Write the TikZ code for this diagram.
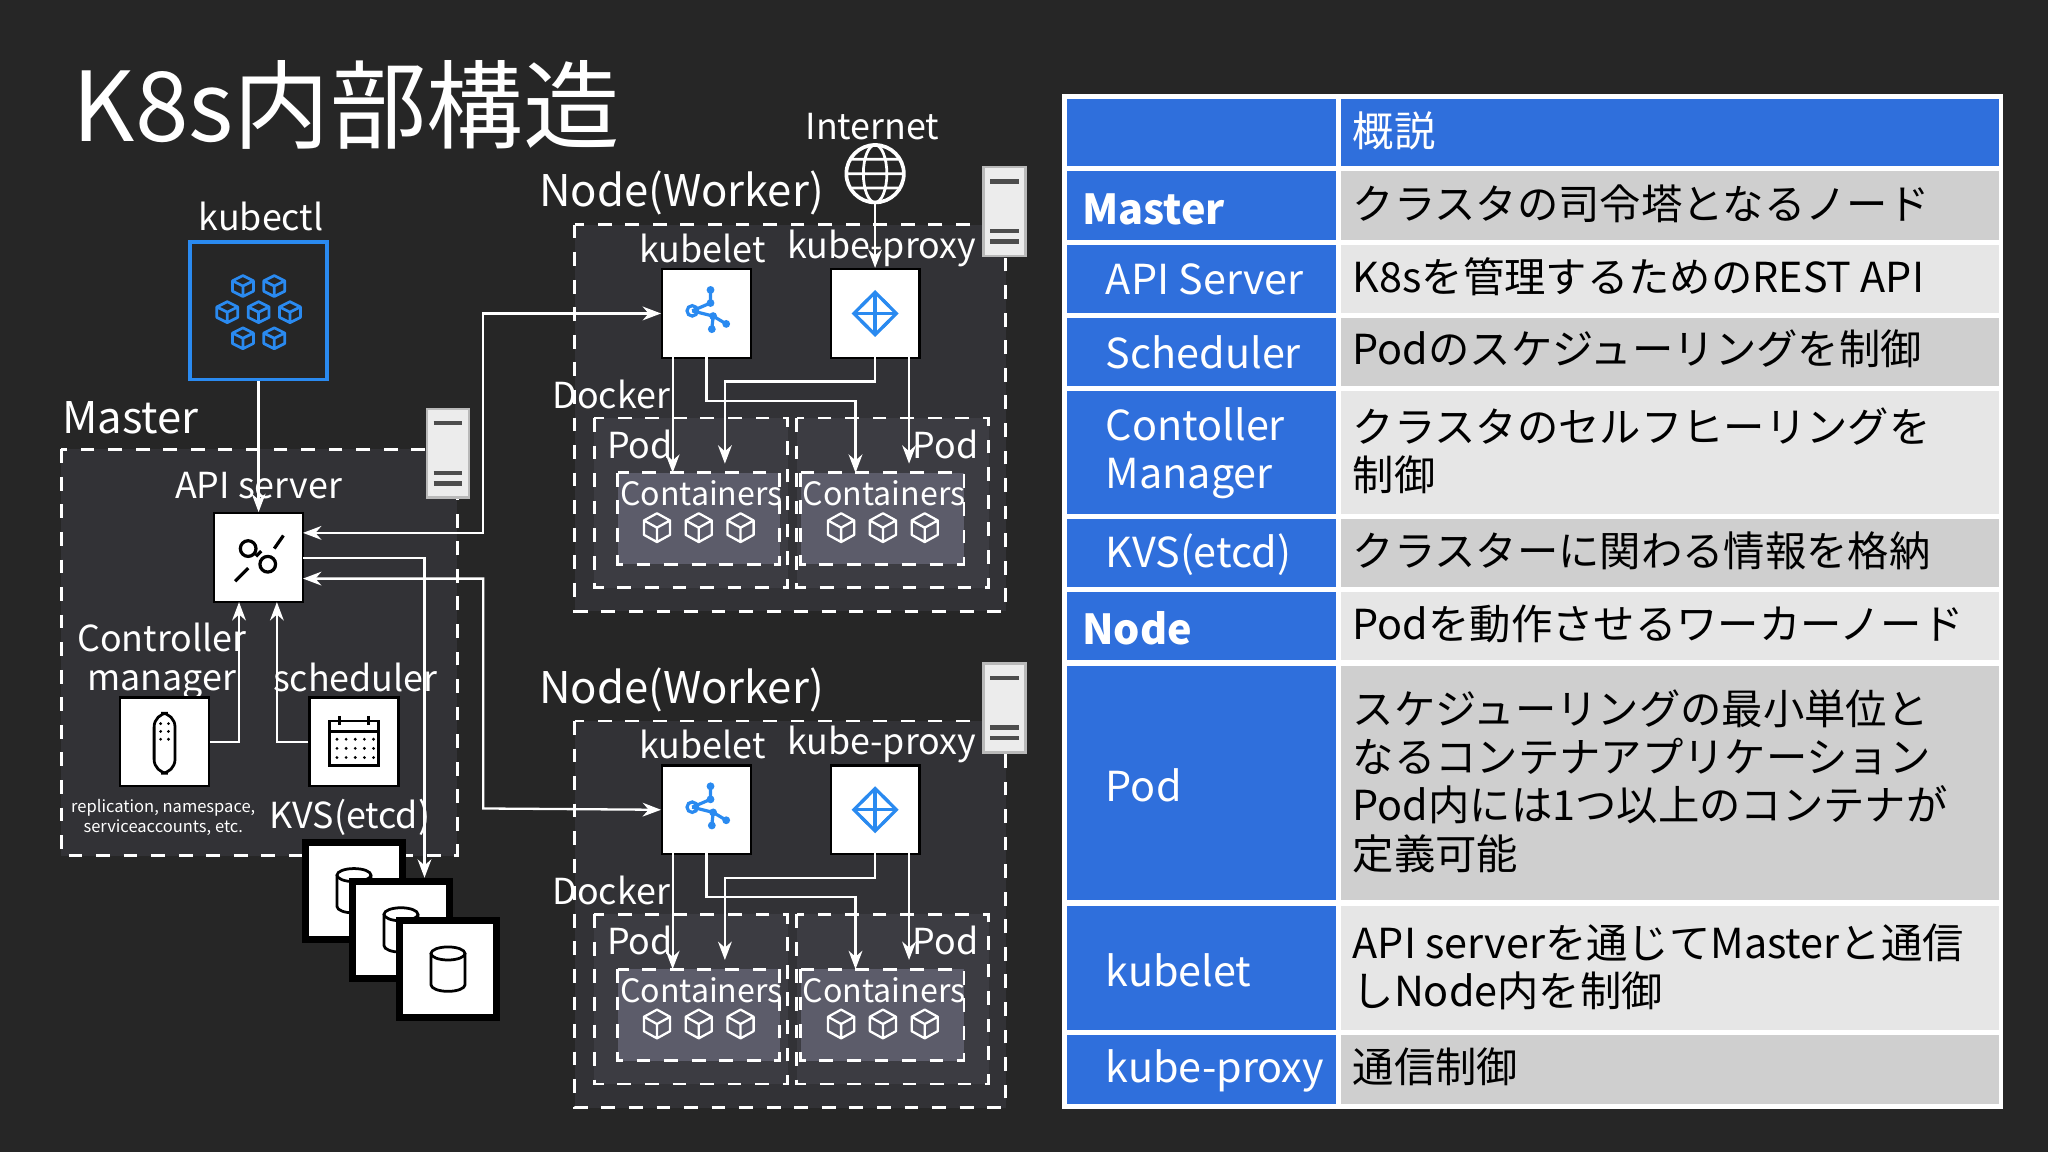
\documentclass[tikz,border=0pt]{standalone}
\usepackage{fontspec}
\setmainfont{Noto Sans CJK JP}
\usetikzlibrary{arrows.meta}
\definecolor{bg}{HTML}{262626}
\definecolor{panel}{HTML}{323236}
\definecolor{podfill}{HTML}{3C3C42}
\definecolor{cfill}{HTML}{5C5C6A}
\definecolor{tblue}{HTML}{2F6FDC}
\definecolor{gdark}{HTML}{CFCFCF}
\definecolor{glight}{HTML}{E6E6E6}
\definecolor{kblue}{HTML}{2A8AF0}
\tikzset{
  lbl/.style={text=white,font=\fontsize{7.8}{8.5}\selectfont,inner sep=0pt},
  box/.style={draw=white,dashed,line width=0.6pt},
  icon/.style={fill=white,draw=black,line width=0.5pt,minimum size=6.8mm,inner sep=0pt},
  link/.style={draw=white,line width=0.5pt,-{Stealth[length=4pt]}},
  both/.style={draw=white,line width=0.5pt,{Stealth[length=4pt]}-{Stealth[length=4pt]}},
  cell/.style={text=black,font=\fontsize{9}{10.5}\selectfont,anchor=west,align=left,inner sep=0pt},
  head/.style={text=white,font=\fontsize{9}{10.5}\selectfont,anchor=west,align=left,inner sep=0pt},
  cube/.pic={\draw[white,line width=0.5pt,line join=round]
      (0,-11)--(10,-5.5)--(10,5.5)--(0,11)--(-10,5.5)--(-10,-5.5)--cycle
      (-10,-5.5)--(0,0)--(10,-5.5) (0,0)--(0,11);},
  bcube/.pic={\draw[kblue,line width=0.6pt,line join=round]
      (0,-8)--(8,-4)--(8,4)--(0,8)--(-8,4)--(-8,-4)--cycle
      (-8,-4)--(0,0)--(8,-4) (0,0)--(0,8);},
  server/.pic={\fill[gray!55] (0,0) rectangle (34,70);
      \fill[white!85!gray] (2,2) rectangle (32,68);
      \draw[black!70,line width=1pt] (6,12)--(28,12) (6,50)--(28,50) (6,58)--(28,58);},
  db/.pic={\node[icon,minimum size=7.4mm,line width=1.5pt] at (0,0) {};
      \draw[black,line width=0.6pt] (-13,-12) -- (-13,12) arc[start angle=180,end angle=0,x radius=13,y radius=5] -- (13,-12);
      \draw[black,line width=0.6pt] (0,-12) ellipse[x radius=13,y radius=5];}
}
\begin{document}
\begin{tikzpicture}[x=0.01cm,y=-0.01cm]
\fill[bg] (0,0) rectangle (1568,882);
\node[anchor=west,text=white,font=\fontsize{21}{23}\selectfont,inner sep=0pt] (title) at (55,80) {K8s内部構造};

%% master
\node[lbl,anchor=west,font=\fontsize{9.5}{10}\selectfont] (mlbl) at (47,320) {Master};
\draw[box,fill=panel] (47,344) rectangle (350,655);
\pic at (326,312) {server};
\node[lbl] (kctllbl) at (200,166) {kubectl};
\node[draw=kblue,fill=bg,minimum size=10.5mm,inner sep=0pt,line width=0.8pt] (kubectl) at (198,238) {};
\foreach \p in {(186,219),(210,219),(174,239),(198,239),(222,239),(186,259),(210,259)}
  \pic at \p {bcube};
\node[lbl] (apilbl) at (198,372) {API server};
\node[icon] (api) at (198,427) {};
\draw[black,line width=0.7pt] (180,445)--(190,435) (190,420) circle[radius=6] (205,432) circle[radius=6] (196,426)--(200,422) (210,420)--(217,410);
\node[lbl,align=center] (ctllbl) at (124,506) {Controller\\manager};
\node[icon] (ctl) at (126,568) {};
\draw[black,line width=0.6pt,rounded corners=3pt] (118,546) rectangle (134,592);
\foreach \yy in {554,560,566} \fill[black] (123,\yy) circle[radius=1.2] (129,\yy) circle[radius=1.2];
\node[lbl] (schlbl) at (272,519) {scheduler};
\node[icon] (sch) at (271,568) {};
\draw[black,line width=0.6pt] (252,552) rectangle (290,586) (252,560)--(290,560) (260,548)--(260,555) (282,548)--(282,555);
\foreach \xx in {258,265,272,279,286} \foreach \yy in {566,573,580} \fill[black] (\xx,\yy) circle[radius=1.2];
\node[text=white,font=\fontsize{3.6}{4.5}\selectfont\itshape,align=center,inner sep=0pt] (note) at (125,626) {replication, namespace,\\serviceaccounts, etc.};
\node[lbl] (kvslbl) at (268,626) {KVS(etcd)};
\pic at (271,682) {db};
\pic at (307,712) {db};
\pic at (343,742) {db};
\coordinate (kvs) at (325,672);

%% workers
\foreach \n/\dy in {1/0,2/380}{
  \begin{scope}[yshift=-\dy*0.01cm]
  \node[lbl,anchor=west,font=\fontsize{9.5}{10}\selectfont] (wlbl\n) at (412,148) {Node(Worker)};
  \draw[box,fill=panel] (440,172) rectangle (770,468);
  \pic at (752,127) {server};
  \node[lbl] (kllbl\n) at (538,190) {kubelet};
  \node[lbl] (kplbl\n) at (675,190) {kube-proxy};
  \node[icon] (kl\n) at (541,240) {};
  \draw[kblue,line width=0.7pt] (530,238) circle[radius=4] (530,238)--(544,232) (530,238)--(546,242)
     (544,232)--(544,222) (546,242)--(556,248) (546,242)--(545,252);
  \foreach \p in {(544,232),(544,222),(546,242),(556,248),(545,252)} \fill[kblue] \p circle[radius=3];
  \node[icon] (kp\n) at (670,240) {};
  \draw[kblue,line width=0.7pt,{Straight Barb[length=3pt]}-{Straight Barb[length=3pt]}] (652,240)--(688,240);
  \draw[kblue,line width=0.7pt,{Straight Barb[length=3pt]}-{Straight Barb[length=3pt]}] (670,222)--(670,258);
  \node[lbl] (dk\n) at (468,302) {Docker};
  \draw[box,fill=podfill] (455,320) rectangle (603,450);
  \draw[box,fill=podfill] (610,320) rectangle (757,450);
  \node[lbl] (pa\n) at (490,340) {Pod};
  \node[lbl] (pb\n) at (724,340) {Pod};
  \draw[box,fill=cfill] (473,362) rectangle (597,432);
  \draw[box,fill=cfill] (613,362) rectangle (738,432);
  \node[lbl,font=\fontsize{7}{8}\selectfont] (ca\n) at (537,378) {Containers};
  \node[lbl,font=\fontsize{7}{8}\selectfont] (cb\n) at (677,378) {Containers};
  \foreach \xx in {503,535,567,644,676,708} \pic at (\xx,404) {cube};
  \coordinate (ta\n) at (515,362); \coordinate (tb\n) at (555,355);
  \coordinate (tc\n) at (655,362); \coordinate (td\n) at (696,355);
  \draw[link] (515,273) -- (ta\n);
  \draw[link] (541,273) |- (655,307) -- (tc\n);
  \draw[link] (670,273) |- (555,292) -- (tb\n);
  \draw[link] (696,273) -- (td\n);
  \end{scope}}
\node[lbl] (inetlbl) at (668,97) {Internet};
\node[draw=white,circle,minimum size=4.4mm,line width=0.8pt,inner sep=0pt] (inet) at (670,133) {};
\draw[white,line width=0.6pt] (670,133) ellipse[x radius=9,y radius=22] (648,133)--(692,133) (652,122)--(688,122) (652,144)--(688,144);
\draw[link] (inet.south) -- (kp1.north);

%% master links
\draw[link] (kubectl.south) -- (api.north);
\draw[link] (ctl.east) -| (183,461);
\draw[link] (sch.west) -| (212,461);
\draw[link] (232,427) -| (kvs);
\draw[both] (232,408) -| (370,240) -- (kl1.west);
\draw[both] (232,443) -| (370,619) -- (kl2.west);

%% table
\def\xa{815}\def\xb{1025}\def\xc{1532}
\fill[tblue] (\xa,74) rectangle (\xc,128);
\foreach \ta/\tb/\c in {130/185/gdark,186/241/glight,242/297/gdark,298/395/glight,396/451/gdark,452/507/glight,508/691/gdark,692/790/glight,791/847/gdark}{
  \fill[tblue] (\xa,\ta) rectangle (\xb,\tb);
  \fill[\c] (\xb,\ta) rectangle (\xc,\tb);}
\draw[white,line width=1pt] (\xa,74) rectangle (\xc,847) (\xb,74)--(\xb,847);
\foreach \yy in {129,185.5,241.5,297.5,395.5,451.5,507.5,691.5,790.5} \draw[white,line width=1.2pt] (\xa,\yy)--(\xc,\yy);
\node[head] (h0) at (1035,100) {概説};
\node[head,font=\fontsize{9}{10.5}\selectfont\bfseries] (h1) at (828,160) {Master};
\node[head] (h2) at (846,214) {API Server};
\node[head] (h3) at (846,270) {Scheduler};
\node[head] (h4) at (846,347) {Contoller\\Manager};
\node[head] (h5) at (846,425) {KVS(etcd)};
\node[head,font=\fontsize{9}{10.5}\selectfont\bfseries] (h6) at (828,481) {Node};
\node[head] (h7) at (846,601) {Pod};
\node[head] (h8) at (846,743) {kubelet};
\node[head] (h9) at (846,820) {kube-proxy};
\node[cell] (d1) at (1035,156) {クラスタの司令塔となるノード};
\node[cell] (d2) at (1035,212) {K8sを管理するためのREST API};
\node[cell] (d3) at (1035,267) {Podのスケジューリングを制御};
\node[cell] (d4) at (1035,345) {クラスタのセルフヒーリングを\\制御};
\node[cell] (d5) at (1035,422) {クラスターに関わる情報を格納};
\node[cell] (d6) at (1035,478) {Podを動作させるワーカーノード};
\node[cell] (d7) at (1035,598) {スケジューリングの最小単位と\\なるコンテナアプリケーション\\Pod内には1つ以上のコンテナが\\定義可能};
\node[cell] (d8) at (1035,740) {API serverを通じてMasterと通信\\しNode内を制御};
\node[cell] (d9) at (1035,817) {通信制御};
\end{tikzpicture}
\end{document}
